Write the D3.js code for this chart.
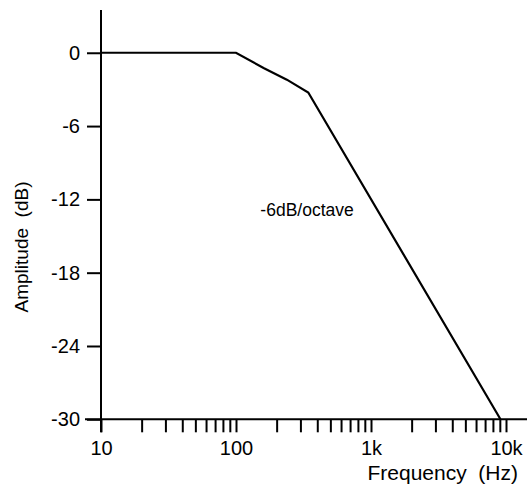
<!DOCTYPE html>
<html>
<head>
<meta charset="utf-8">
<script src="https://cdn.jsdelivr.net/npm/d3@7"></script>
<style>
  html, body { margin: 0; padding: 0; background: #fff; }
  svg { display: block; font-family: "Liberation Sans", Arial, Helvetica, sans-serif; }
</style>
</head>
<body>
<svg id="chart" width="527" height="492"></svg>
<script>
// ---- data ----
const frequencyHz = [10, 100, 160, 238, 343, 9100];
const amplitudeDb = [0, 0, -1.25, -2.2, -3.25, -30];
const yTickValues = [0, -6, -12, -18, -24, -30];
const xMajorTicks = [10, 100, 1000, 10000];
const xMajorLabels = ["10", "100", "1k", "10k"];
const slopeLabel = "-6dB/octave";
const slopeLabelAt = { f: 336, db: -13.4 };
const xTitle = "Frequency\u00a0 (Hz)";
const yTitle = "Amplitude\u00a0 (dB)";

// ---- scales ----
const W = 527, H = 492;
const x = d3.scaleLog().domain([10, 10000]).range([101, 506]);
const y = d3.scaleLinear().domain([-30, 3.5]).range([419.3, 10]);

const svg = d3.select("#chart");

// minor + major x ticks: every integer multiple within each decade
const xTicks = [];
for (let dec = 10; dec < 10000; dec *= 10) {
  for (let m = 1; m < 10; m++) xTicks.push(dec * m);
}
xTicks.push(10000);
const labelFor = new Map(xMajorTicks.map((v, i) => [v, xMajorLabels[i]]));

// ---- x axis ----
const xAxis = d3.axisBottom(x)
  .tickValues(xTicks)
  .tickFormat(d => labelFor.get(d) || "")
  .tickSize(13)
  .tickSizeOuter(0)
  .tickPadding(9);

const gx = svg.append("g")
  .attr("transform", `translate(0,${y(-30)})`)
  .call(xAxis);
gx.select(".domain").remove();
gx.selectAll(".tick line").attr("stroke", "#000").attr("stroke-width", 2);
gx.selectAll(".tick text").attr("fill", "#000").style("font-size", "20px");
// extended axis baseline
gx.append("line")
  .attr("x1", x(10) - 16).attr("x2", W)
  .attr("y1", 0).attr("y2", 0)
  .attr("stroke", "#000").attr("stroke-width", 2);

// ---- y axis ----
const yAxis = d3.axisLeft(y)
  .tickValues(yTickValues)
  .tickFormat(d => String(d))
  .tickSize(14)
  .tickSizeOuter(0)
  .tickPadding(7);

const gy = svg.append("g")
  .attr("transform", `translate(${x(10)},0)`)
  .call(yAxis);
gy.select(".domain").remove();
gy.selectAll(".tick line").attr("stroke", "#000").attr("stroke-width", 2);
gy.selectAll(".tick text").attr("fill", "#000").style("font-size", "20px");
gy.append("line")
  .attr("x1", 0).attr("x2", 0)
  .attr("y1", y(3.5)).attr("y2", y(-30) + 13)
  .attr("stroke", "#000").attr("stroke-width", 2);

// ---- curve ----
const pts = frequencyHz.map((f, i) => [f, amplitudeDb[i]]);
svg.append("path")
  .datum(pts)
  .attr("fill", "none")
  .attr("stroke", "#000")
  .attr("stroke-width", 2.2)
  .attr("stroke-linejoin", "miter")
  .attr("d", d3.line().x(d => x(d[0])).y(d => y(d[1])));

// ---- annotation ----
svg.append("text")
  .attr("x", x(slopeLabelAt.f))
  .attr("y", y(slopeLabelAt.db))
  .attr("text-anchor", "middle")
  .style("font-size", "17.5px")
  .text(slopeLabel);

// ---- titles ----
svg.append("text")
  .attr("x", 518)
  .attr("y", 480)
  .attr("text-anchor", "end")
  .style("font-size", "21px")
  .text(xTitle);

svg.append("text")
  .attr("transform", `translate(28,247) rotate(-90)`)
  .attr("text-anchor", "middle")
  .style("font-size", "19px")
  .text(yTitle);
</script>
</body>
</html>
